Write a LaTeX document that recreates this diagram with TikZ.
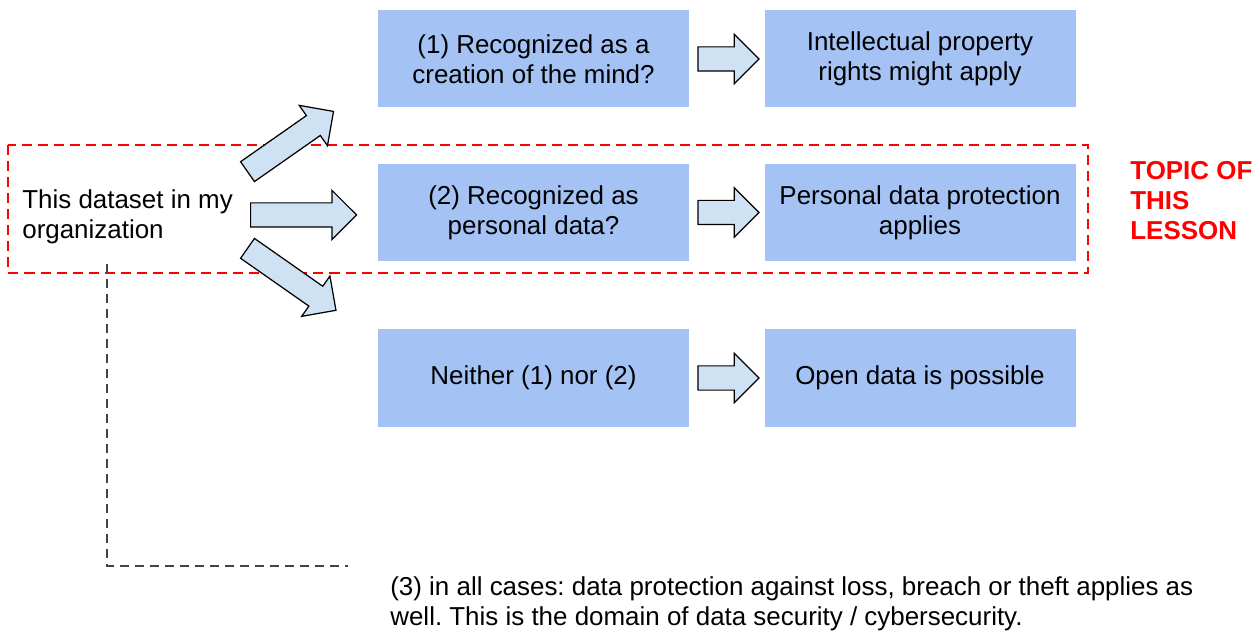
\documentclass[tikz,border=0pt]{standalone}
\usepackage{fontspec}
\setmainfont{Liberation Sans}
\usetikzlibrary{shapes.arrows,calc}

\definecolor{boxblue}{HTML}{A4C2F4}
\definecolor{arrowblue}{HTML}{CFE2F3}
\definecolor{lessonred}{HTML}{FF0000}
\definecolor{noteline}{HTML}{444444}
\def\px{0.5669pt}
\frenchspacing

\tikzset{
  qbox/.style={fill=boxblue, minimum width=311*\px, minimum height=97*\px,
    align=center, inner sep=0pt, font=\fontsize{14.7}{17}\selectfont},
  blockarrow/.style={single arrow, draw=black, fill=arrowblue, line width=0.7pt,
    inner sep=0pt, inner ysep=11.5*\px, single arrow head extend=12.5*\px,
    single arrow tip angle=90, anchor=tail},
  plain/.style={align=left, inner sep=0pt, font=\fontsize{14.7}{17}\selectfont},
}

\begin{document}
\begin{tikzpicture}[x=\px, y=-\px]
  \useasboundingbox (0,0) rectangle (1257,631);
  % frame round the lesson's topic
  \draw[lessonred, line width=1.1pt, dash pattern=on 5.7pt off 3.4pt] (8,145) rectangle (1088,273);

  \node[plain, anchor=west] (src) at (22,217) {This dataset in my\\organization};

  \node[qbox] (q1) at (533.5,59) {(1) Recognized as a\\creation of the mind?};
  \node[qbox] (q2) at (533.5,212.5) {(2) Recognized as\\personal data?};
  \node[qbox] (q3) at (533.5,378) {Neither (1) nor (2)};
  \node[qbox] (r1) at (920,59) {Intellectual property\\rights might apply};
  \node[qbox] (r2) at (920,212.5) {Personal data protection\\applies};
  \node[qbox] (r3) at (920,378) {Open data is possible};

  % block arrows
  \node[blockarrow, minimum height=105*\px, rotate=35] (a1) at (247,172) {};
  \node[blockarrow, minimum height=106*\px] (a2) at (250,215) {};
  \node[blockarrow, minimum height=108*\px, rotate=-35] (a3) at (247,248) {};
  \node[blockarrow, minimum height=61*\px] (b1) at ($(q1.east)+(8,0)$) {};
  \node[blockarrow, minimum height=61*\px] (b2) at ($(q2.east)+(8,0)$) {};
  \node[blockarrow, minimum height=61*\px] (b3) at ($(q3.east)+(8,0)$) {};

  \node[plain, anchor=west, text=lessonred, font=\fontsize{14.7}{17}\selectfont\bfseries] (topic) at (1130,201) {TOPIC OF\\THIS\\LESSON};

  \node[plain, anchor=north west] (note) at (390,576) {(3) in all cases: data protection against loss, breach or theft applies as\\well. This is the domain of data security / cybersecurity.};

  \coordinate (noteend) at (348,566);
  \draw[noteline, line width=0.8pt, dash pattern=on 5.1pt off 3.4pt] ([shift={(85,20)}]src.south west) |- (noteend);
\end{tikzpicture}
\end{document}
